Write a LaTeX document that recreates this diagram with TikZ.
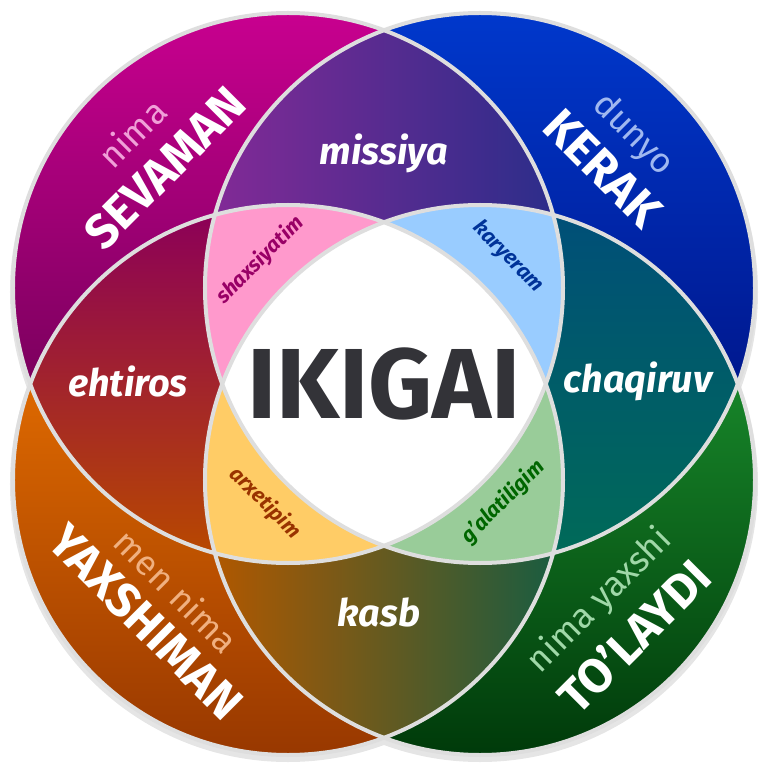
\documentclass[tikz,border=0pt]{standalone}
\usepackage{fontspec}
\setmainfont{Fira Sans}
\usetikzlibrary{positioning}

\definecolor{sevtop}{HTML}{C8008F}
\definecolor{sevmid}{HTML}{8E006C}
\definecolor{sevbot}{HTML}{560046}
\definecolor{kertop}{HTML}{0038CC}
\definecolor{kermid}{HTML}{0020A4}
\definecolor{kerbot}{HTML}{000870}
\definecolor{yaxtop}{HTML}{FF8000}
\definecolor{yaxmid}{HTML}{D66600}
\definecolor{yaxbot}{HTML}{983800}
\definecolor{toltop}{HTML}{22A838}
\definecolor{tolmid}{HTML}{0A781C}
\definecolor{tolbot}{HTML}{003A0A}
\definecolor{misleft}{HTML}{822A96}
\definecolor{mismid}{HTML}{663298}
\definecolor{misright}{HTML}{2C2D8A}
\definecolor{ehttop}{HTML}{8C0058}
\definecolor{ehtmid}{HTML}{9A0000}
\definecolor{ehtbot}{HTML}{B84800}
\definecolor{chqtop}{HTML}{004F78}
\definecolor{chqbot}{HTML}{006A58}
\definecolor{kasleft}{HTML}{B05800}
\definecolor{kasmid}{HTML}{6A6600}
\definecolor{kasright}{HTML}{1A5C40}
\definecolor{pinkreg}{HTML}{FF99CC}
\definecolor{bluereg}{HTML}{99CCFF}
\definecolor{orangereg}{HTML}{FFCC66}
\definecolor{greenreg}{HTML}{99CC99}
\definecolor{ikigray}{HTML}{333338}

\tikzset{
  ring/.style={draw=black!13, line width=4bp},
  biglabel/.style={text=white, inner sep=0pt, font=\bfseries\fontsize{48}{48}\selectfont},
  softlabel/.style={inner sep=0pt, font=\fontsize{35}{35}\selectfont},
  midlabel/.style={text=white, inner sep=0pt, font=\bfseries\itshape\fontsize{38}{38}\selectfont},
  innerlabel/.style={inner sep=0pt, font=\bfseries\itshape\fontsize{21}{21}\selectfont},
}

\begin{document}
\begin{tikzpicture}[x=1bp, y=1bp]
		\useasboundingbox (-384,-384) rectangle (384,384);
		% centres %
		\coordinate (lv) at (-96,96);
		\coordinate (nd) at (96,96);
		\coordinate (gd) at (-96,-96);
		\coordinate (pd) at (96,-96);

		% shadow %
		\fill[black, opacity=0.10] (-96,92) circle[radius=278] (96,92) circle[radius=278]
		  (-96,-100) circle[radius=278] (96,-100) circle[radius=278];

		% circles %
		\shade[top color=sevtop, middle color=sevmid, bottom color=sevbot] (lv) circle[radius=275];
		\shade[top color=kertop, middle color=kermid, bottom color=kerbot] (nd) circle[radius=275];
		\shade[top color=yaxtop, middle color=yaxmid, bottom color=yaxbot] (gd) circle[radius=275];
		\shade[top color=toltop, middle color=tolmid, bottom color=tolbot] (pd) circle[radius=275];

		% two circles %
		\begin{scope}
			\clip (lv) circle[radius=275];
			\clip (nd) circle[radius=275];
			\shade[left color=misleft, middle color=mismid, right color=misright] (-170,150) rectangle (170,356);
		\end{scope}
		\begin{scope}
			\clip (lv) circle[radius=275];
			\clip (gd) circle[radius=275];
			\shade[top color=ehttop, middle color=ehtmid, bottom color=ehtbot] (-356,-170) rectangle (-150,170);
		\end{scope}
		\begin{scope}
			\clip (nd) circle[radius=275];
			\clip (pd) circle[radius=275];
			\shade[top color=chqtop, bottom color=chqbot] (150,-170) rectangle (356,170);
		\end{scope}
		\begin{scope}
			\clip (gd) circle[radius=275];
			\clip (pd) circle[radius=275];
			\shade[left color=kasleft, middle color=kasmid, right color=kasright] (-170,-356) rectangle (170,-150);
		\end{scope}

		% three circles %
		\begin{scope}
			\clip (lv) circle[radius=275]; \clip (nd) circle[radius=275];
			\fill[pinkreg] (gd) circle[radius=275];
		\end{scope}
		\begin{scope}
			\clip (lv) circle[radius=275]; \clip (nd) circle[radius=275];
			\fill[bluereg] (pd) circle[radius=275];
		\end{scope}
		\begin{scope}
			\clip (lv) circle[radius=275]; \clip (gd) circle[radius=275];
			\fill[orangereg] (pd) circle[radius=275];
		\end{scope}
		\begin{scope}
			\clip (nd) circle[radius=275]; \clip (gd) circle[radius=275];
			\fill[greenreg] (pd) circle[radius=275];
		\end{scope}

		% four circles %
		\begin{scope}
			\clip (lv) circle[radius=275]; \clip (nd) circle[radius=275];
			\clip (gd) circle[radius=275];
			\fill[white] (pd) circle[radius=275];
		\end{scope}

		% rings %
		\draw[ring] (lv) circle[radius=275];
		\draw[ring] (nd) circle[radius=275];
		\draw[ring] (gd) circle[radius=275];
		\draw[ring] (pd) circle[radius=275];

		% outer labels %
		\node[softlabel, text={rgb,255:red,240;green,160;blue,216}, rotate=45] (nimasev) at (-252,251) {nima};
		\node[biglabel, rotate=45] (sevaman) at (-219,216) {SEVAMAN};
		\node[softlabel, text={rgb,255:red,160;green,184;blue,240}, rotate=-45] (dunyo) at (249,249) {dunyo};
		\node[biglabel, rotate=-45] (kerak) at (219,216) {KERAK};
		\node[softlabel, text={rgb,255:red,240;green,176;blue,128}, rotate=-45] (mennima) at (-207,-207) {men nima};
		\node[biglabel, rotate=-45] (yaxshiman) at (-238,-238) {YAXSHIMAN};
		\node[softlabel, text={rgb,255:red,160;green,216;blue,168}, rotate=45] (nimayax) at (216,-217) {nima yaxshi};
		\node[biglabel, rotate=45] (tolaydi) at (250,-252) {TO{\char"27}LAYDI};

		% lens labels %
		\node[midlabel] (missiya) at (0,231) {missiya};
		\node[midlabel] (ehtiros) at (-256,3) {ehtiros};
		\node[midlabel] (chaqiruv) at (254,3) {chaqiruv};
		\node[midlabel] (kasb) at (-5,-228) {kasb};

		% inner labels %
		\node[innerlabel, text={rgb,255:red,153;green,0;blue,102}, rotate=45] (shax) at (-124,124) {shaxsiyatim};
		\node[innerlabel, text={rgb,255:red,0;green,51;blue,153}, rotate=-45] (kary) at (124,127) {karyeram};
		\node[innerlabel, text={rgb,255:red,153;green,51;blue,0}, rotate=-45] (arxe) at (-119,-119) {arxetipim};
		\node[innerlabel, text={rgb,255:red,0;green,102;blue,0}, rotate=45] (galat) at (119,-118) {g{\char"27}alatiligim};

		% centre %
		\node[text=ikigray, font=\bfseries\fontsize{100}{100}\selectfont] (ikigai) at (0,0) {IKIGAI};
\end{tikzpicture}
\end{document}
